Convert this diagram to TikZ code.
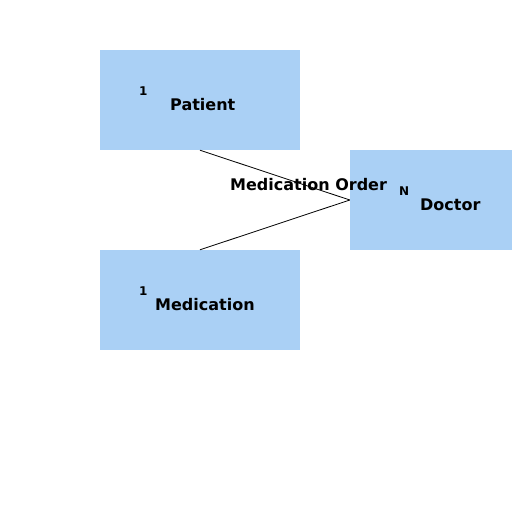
\documentclass[tikz,border=0pt]{standalone}
\usepackage{fontspec}
\setmainfont{DejaVu Sans}
\definecolor{boxblue}{RGB}{170,208,245}
\begin{document}
\begin{tikzpicture}[x=1pt,y=-1pt,
  entity/.style={fill=boxblue,draw=none,inner sep=0,minimum width=200pt,minimum height=100pt},
  lbl/.style={font=\bfseries\fontsize{16}{18}\selectfont,anchor=base west,inner sep=0},
  card/.style={font=\bfseries\fontsize{12}{13}\selectfont,anchor=base west,inner sep=0},
  rel/.style={draw=black,line width=0.8pt}]
\useasboundingbox (0,0) rectangle (512,512);
\node[entity] (patient) at (200,100) {};
\node[entity] (medication) at (200,300) {};
\node[entity,minimum width=162pt] (doctor) at (431,200) {};
\draw[rel] (patient.south) -- (doctor.west);
\draw[rel] (medication.north) -- (doctor.west);
\node[lbl] (pt) at (170,110) {Patient};
\node[lbl] (md) at (155,310) {Medication};
\node[lbl] (dc) at (420,210) {Doctor};
\node[lbl] (mo) at (230,190) {Medication Order};
\node[card] (c1) at (139,95) {1};
\node[card] (c2) at (139,295) {1};
\node[card] (cn) at (399,195) {N};
\end{tikzpicture}
\end{document}
